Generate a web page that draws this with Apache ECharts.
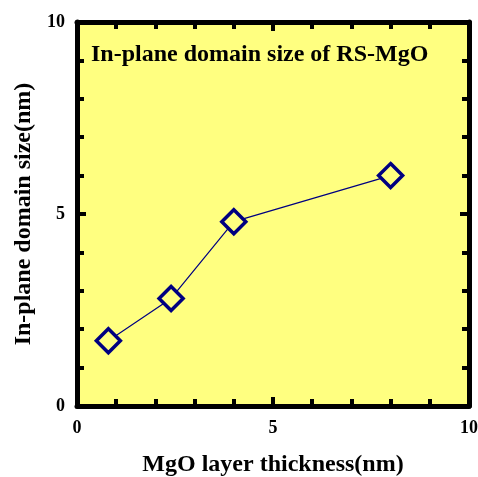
<!DOCTYPE html>
<html>
<head>
<meta charset="utf-8">
<script src="https://cdn.jsdelivr.net/npm/echarts@6/dist/echarts.min.js"></script>
<style>
  html, body { margin: 0; padding: 0; background: #fff; }
  #chart { width: 478px; height: 477px; }
</style>
</head>
<body>
<div id="chart"></div>
<script>
// 数据
const thickness = [0.8, 2.4, 4.0, 8.0];
const domainSize = [1.7, 2.8, 4.8, 6.0];
const xTicks = [0, 5, 10];
const yTicks = [0, 5, 10];

const chart = echarts.init(document.getElementById('chart'));

const font = '"Liberation Serif", "Times New Roman", serif';
const ink = '#000';
const navy = '#000080';

// 轴的公共样式：刻度朝内，主刻度每5，次刻度每1
function frameAxis(extra) {
    return Object.assign({
        type: 'value',
        min: 0,
        max: 10,
        interval: 5,
        axisLine: { show: true, onZero: false, lineStyle: { color: ink, width: 5 } },
        axisTick: { show: true, inside: true, length: 9, lineStyle: { color: ink, width: 4 } },
        minorTick: { show: true, splitNumber: 5, length: 7, lineStyle: { color: ink, width: 4 } },
        splitLine: { show: false },
        minorSplitLine: { show: false }
    }, extra);
}

const option = {
    backgroundColor: '#fff',
    grid: {
        left: 77,
        right: 9,
        top: 22,
        bottom: 71,
        outerBoundsMode: 'none',
        show: true,
        backgroundColor: '#ffff80',
        borderWidth: 0
    },
    title: {
        text: 'In-plane domain size of RS-MgO',
        left: 86,
        top: 38,
        textStyle: { fontFamily: font, fontSize: 24, fontWeight: 'bold', color: ink }
    },
    xAxis: [
        frameAxis({
            position: 'bottom',
            name: 'MgO layer thickness(nm)',
            nameLocation: 'middle',
            nameGap: 47,
            nameTextStyle: { fontFamily: font, fontSize: 24, fontWeight: 'bold', color: ink },
            axisLabel: {
                margin: 13,
                fontFamily: font, fontSize: 18, fontWeight: 'bold', color: ink,
                formatter: v => xTicks.includes(v) ? String(v) : ''
            }
        }),
        frameAxis({ position: 'top', axisLabel: { show: false } })
    ],
    yAxis: [
        frameAxis({
            position: 'left',
            name: 'In-plane domain size(nm)',
            nameLocation: 'middle',
            nameGap: 38,
            nameTextStyle: { fontFamily: font, fontSize: 24, fontWeight: 'bold', color: ink },
            axisLabel: {
                margin: 12,
                fontFamily: font, fontSize: 18, fontWeight: 'bold', color: ink,
                formatter: v => yTicks.includes(v) ? String(v) : ''
            }
        }),
        frameAxis({ position: 'right', axisLabel: { show: false } })
    ],
    series: [
        {
            type: 'line',
            data: thickness.map((x, i) => [x, domainSize[i]]),
            symbol: 'diamond',
            symbolSize: 24,
            lineStyle: { color: navy, width: 1.2 },
            itemStyle: { color: '#ffff80', borderColor: navy, borderWidth: 3.5 },
            z: 5
        }
    ]
};

chart.setOption(option);
</script>
</body>
</html>
